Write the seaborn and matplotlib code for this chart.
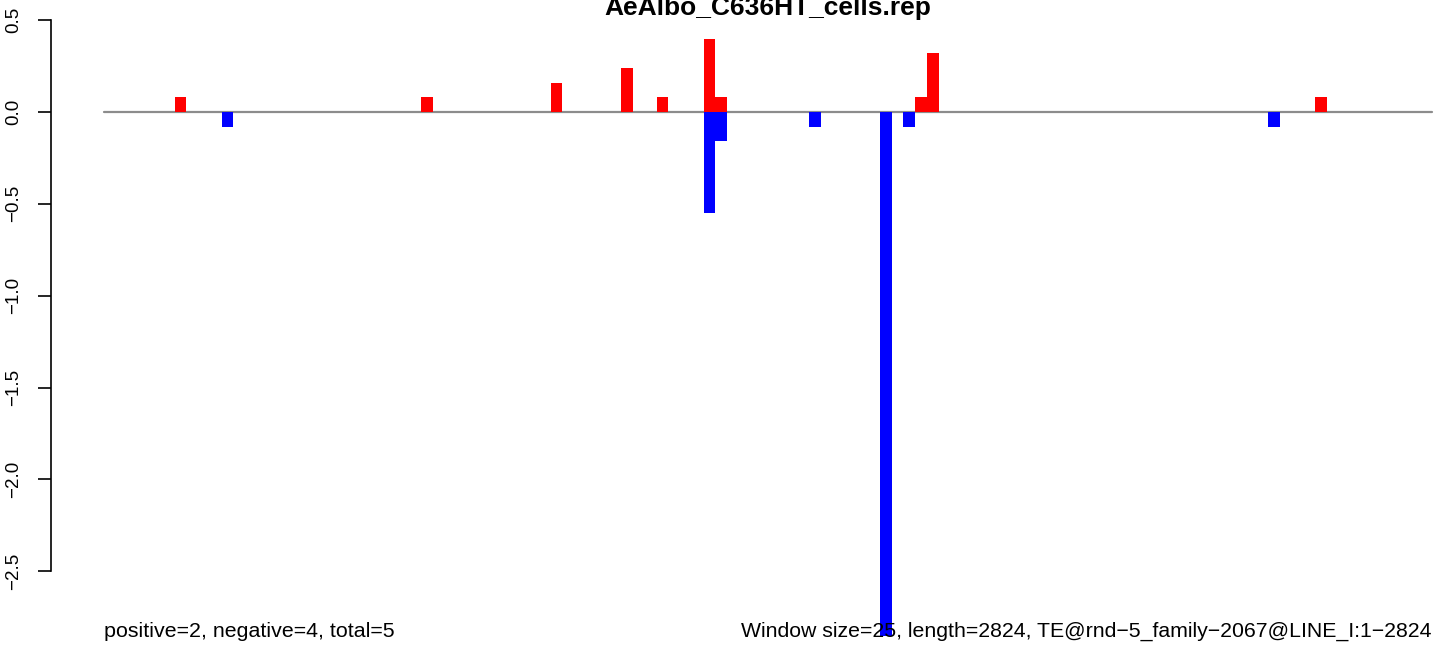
import numpy as np
import pandas as pd
import matplotlib
matplotlib.use("Agg")
import matplotlib.pyplot as plt
import seaborn as sns

# data
title = "AeAlbo_C636HT_cells.rep"
window_size = 25
length = 2824
pos_windows = [6, 27, 38, 44, 47, 51, 52, 69, 70, 103]
pos_values = [0.08, 0.08, 0.16, 0.24, 0.08, 0.40, 0.08, 0.08, 0.32, 0.08]
neg_windows = [10, 51, 52, 60, 66, 68, 99]
neg_values = [-0.08, -0.55, -0.16, -0.08, -2.85, -0.08, -0.08]
y_ticks = [-2.5, -2.0, -1.5, -1.0, -0.5, 0.0, 0.5]
left_note = "positive=2, negative=4, total=5"
right_note = "Window size=25, length=2824, TE@rnd\u22125_family\u22122067@LINE_I:1\u22122824"

sns.set_style("white")
plt.rcParams['font.family'] = ['Liberation Sans', 'DejaVu Sans']
plt.rcParams['text.color'] = 'black'
plt.rcParams['ytick.color'] = 'black'
plt.rcParams['ytick.labelcolor'] = 'black'

n_win = int(np.ceil(length / window_size))
centers = np.arange(n_win) * window_size + window_size / 2
pos = np.zeros(n_win)
pos[pos_windows] = pos_values
neg = np.zeros(n_win)
neg[neg_windows] = neg_values
df = pd.DataFrame({'center': centers, 'pos': pos, 'neg': neg})

W, H = 1444, 648
fig = plt.figure(figsize=(W / 100, H / 100), dpi=100)
ax_left = 51
ax = fig.add_axes([ax_left / W, 0, (W - ax_left) / W, 1])

# pixel mapping: x=0 at px 104, x=length at px 1432; y=0 at px 112, 183.7 px per unit
xs = (1432 - 104) / length
ys = 183.7

ax.plot([0, length], [0, 0], color='#8c8c8c', lw=1.6, zorder=1)
sns.barplot(data=df, x='center', y='pos', native_scale=True, orient='x', width=1,
            color='#ff0000', saturation=1, linewidth=0, errorbar=None, ax=ax, zorder=2)
sns.barplot(data=df, x='center', y='neg', native_scale=True, orient='x', width=1,
            color='#0000ff', saturation=1, linewidth=0, errorbar=None, ax=ax, zorder=2)

ax.set_xlim((ax_left - 104) / xs, (W - 104) / xs)
ax.set_ylim((112 - H) / ys, 112 / ys)

for s in ['top', 'right', 'bottom']:
    ax.spines[s].set_visible(False)
ax.spines['left'].set_bounds(-2.5, 0.5)
ax.spines['left'].set_color('black')
ax.spines['left'].set_linewidth(1.2)
ax.set_xticks([])
ax.set_yticks(y_ticks)
ax.set_yticklabels([f"{v:.1f}".replace('-', '\u2212') for v in y_ticks],
                   rotation=90, va='center', fontsize=13.5, color='black')
ax.tick_params(axis='y', direction='out', length=9.5, width=1.2, pad=11, left=True,
               colors='black')
ax.set_xlabel('')
ax.set_ylabel('')

y_note = (112 - 637) / ys
ax.text(0, y_note, left_note, ha='left', va='baseline', fontsize=15.4,
        color='black', zorder=5)
ax.text(length, y_note, right_note, ha='right', va='baseline', fontsize=15.3,
        color='black', zorder=5)

fig.text(767.5 / W, 1 - 15 / H, title, ha='center', va='baseline',
         fontsize=19, fontweight='bold', color='black')

fig.savefig('out.png', dpi=100)
